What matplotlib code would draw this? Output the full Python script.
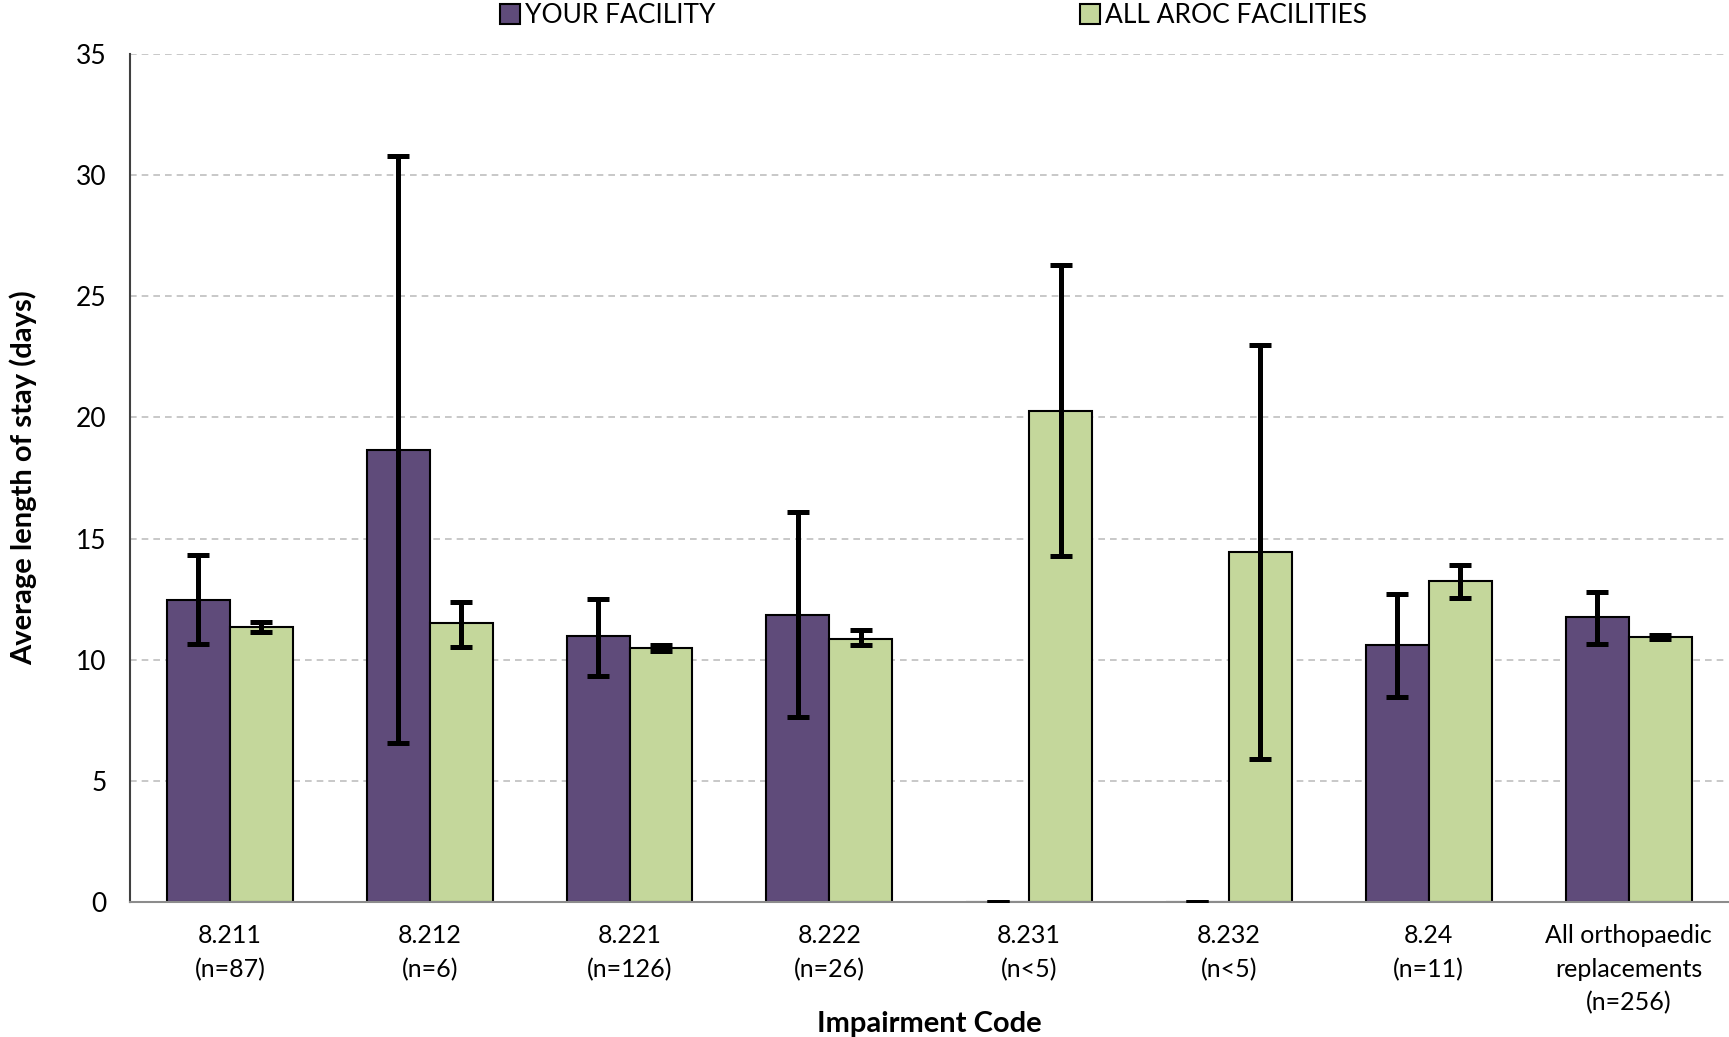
import numpy as np
import matplotlib.pyplot as plt

# Data
categories = ["8.211\n(n=87)", "8.212\n(n=6)", "8.221\n(n=126)", "8.222\n(n=26)",
              "8.231\n(n<5)", "8.232\n(n<5)", "8.24\n(n=11)",
              "All orthopaedic\nreplacements\n(n=256)"]
facility = [12.47, 18.64, 10.97, 11.83, 0, 0, 10.62, 11.75]
facility_lo = [10.64, 6.55, 9.33, 7.65, 0, 0, 8.47, 10.64]
facility_hi = [14.33, 30.77, 12.52, 16.11, 0, 0, 12.71, 12.79]
aroc = [11.34, 11.50, 10.47, 10.88, 20.25, 14.43, 13.26, 10.93]
aroc_lo = [11.13, 10.54, 10.35, 10.60, 14.29, 5.92, 12.56, 10.85]
aroc_hi = [11.57, 12.40, 10.60, 11.24, 26.31, 22.99, 13.91, 11.02]
series_names = ["YOUR FACILITY", "ALL AROC FACILITIES"]
yticks = [0, 5, 10, 15, 20, 25, 30, 35]

plt.rcParams['font.family'] = ['Lato', 'DejaVu Sans']

fig = plt.figure(figsize=(17.29, 10.37), dpi=100)
ax = fig.add_axes([0.0752, 0.130, 0.9245, 0.818])

x = np.arange(len(categories))
w = 0.315
purple = "#5F4B7A"
green = "#C4D79B"

def err(v, lo, hi):
	v, lo, hi = np.array(v), np.array(lo), np.array(hi)
	return np.vstack([v - lo, hi - v])

b1 = ax.bar(x - w/2, facility, w, color=purple, edgecolor="black", linewidth=1.5,
	label=series_names[0], zorder=2)
b2 = ax.bar(x + w/2, aroc, w, color=green, edgecolor="black", linewidth=1.5,
	label=series_names[1], zorder=2)
ax.errorbar(x - w/2, facility, yerr=err(facility, facility_lo, facility_hi), fmt="none",
	ecolor="black", elinewidth=3.6, capsize=8, capthick=3.6, zorder=3)
ax.errorbar(x + w/2, aroc, yerr=err(aroc, aroc_lo, aroc_hi), fmt="none",
	ecolor="black", elinewidth=3.6, capsize=8, capthick=3.6, zorder=3)

ax.set_xlim(-0.5, len(categories) - 0.5)
ax.set_ylim(0, 35)
ax.set_yticks(yticks)
ax.set_xticks(x)
ax.set_xticklabels(categories, fontsize=18, linespacing=1.55)
ax.tick_params(axis="both", length=0)
ax.tick_params(axis="y", pad=17, labelsize=19)
ax.tick_params(axis="x", pad=16)
ax.yaxis.grid(True, color="#BFBFBF", linestyle=(0, (4, 3)), linewidth=1.2, zorder=0)
ax.set_axisbelow(True)
for s in ["top", "right"]:
	ax.spines[s].set_visible(False)
ax.spines["left"].set_color("#404040")
ax.spines["left"].set_linewidth(1.5)
ax.spines["bottom"].set_color("#8C8C8C")
ax.spines["bottom"].set_linewidth(1.5)

ax.set_ylabel("Average length of stay (days)", fontsize=21, fontweight="bold", labelpad=28)
ax.set_xlabel("Impairment Code", fontsize=21, fontweight="bold", labelpad=-3)

fig.legend(handles=[b1, b2], labels=series_names, loc="center", ncol=2,
	bbox_to_anchor=(0.54, 0.985), frameon=False, fontsize=19,
	handlelength=0.75, handleheight=0.75, handletextpad=0.2, columnspacing=13.8)

fig.savefig("out.png", dpi=100)
